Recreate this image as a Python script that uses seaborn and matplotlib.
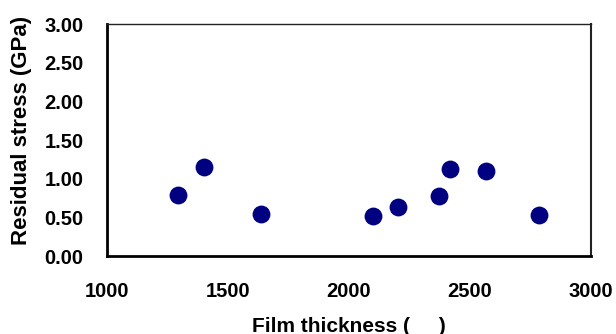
import matplotlib
matplotlib.use('Agg')
import matplotlib.pyplot as plt
import seaborn as sns
import pandas as pd

# Données
thickness = [1292, 1399, 1638, 2100, 2201, 2373, 2417, 2566, 2784]
stress = [0.79, 1.155, 0.54, 0.52, 0.64, 0.78, 1.13, 1.10, 0.53]
x_ticks = [1000, 1500, 2000, 2500, 3000]
y_ticks = [0.0, 0.5, 1.0, 1.5, 2.0, 2.5, 3.0]

df = pd.DataFrame({'thickness': thickness, 'stress': stress})

sns.set_style('white')
plt.rcParams['font.family'] = ['Liberation Sans', 'DejaVu Sans']
plt.rcParams['text.color'] = 'black'
plt.rcParams['axes.labelcolor'] = 'black'

fig = plt.figure(figsize=(6.16, 3.34), dpi=100)
ax = fig.add_axes([107 / 616, 1 - 256 / 334, (591 - 107) / 616, (256 - 24) / 334])

sns.scatterplot(data=df, x='thickness', y='stress', ax=ax, s=165,
                color='#000080', edgecolor='#000080', linewidth=0, zorder=3)

ax.set_xlim(1000, 3000)
ax.set_ylim(0, 3)
ax.set_xticks(x_ticks)
ax.set_yticks(y_ticks)
ax.set_xticklabels([str(v) for v in x_ticks])
ax.set_yticklabels([f'{v:.2f}' for v in y_ticks])
ax.tick_params(direction='in', length=5, width=1, color='#555555',
               labelsize=14.5, labelcolor='black')
ax.tick_params(axis='x', pad=18.5)
ax.tick_params(axis='y', pad=17)
for lab in ax.get_xticklabels() + ax.get_yticklabels():
    lab.set_fontweight('bold')

ax.spines['left'].set_linewidth(2)
ax.spines['bottom'].set_linewidth(2)
ax.spines['left'].set_color('black')
ax.spines['bottom'].set_color('black')
ax.spines['top'].set_linewidth(1)
ax.spines['right'].set_linewidth(1.5)
ax.spines['top'].set_color('#222222')
ax.spines['right'].set_color('#222222')

ax.set_xlabel('Film thickness (     )', fontsize=15, fontweight='bold', va='baseline')
ax.xaxis.set_label_coords(0.5, (256 - 331.5) / 232)
ax.set_ylabel('Residual stress (GPa)', fontsize=16, fontweight='bold', va='center')
ax.yaxis.set_label_coords((22 - 107) / 484, (256 - 130.5) / 232)

fig.savefig('out.png', dpi=100)
